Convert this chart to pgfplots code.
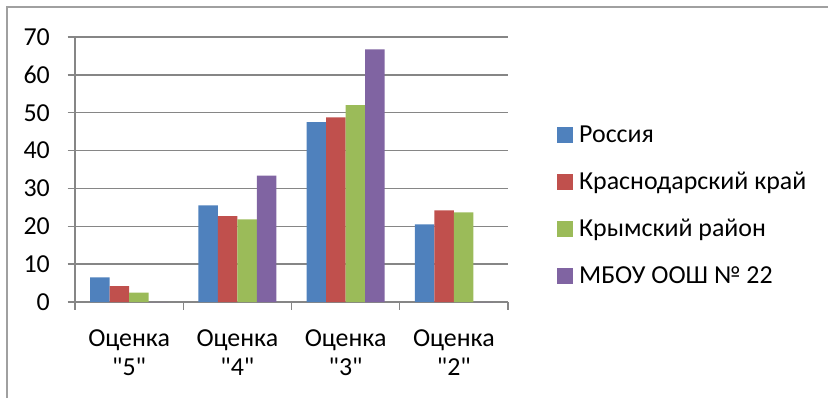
\documentclass[border=0pt]{standalone}
\usepackage{pgfplots}
\pgfplotsset{compat=1.18}
\usepackage{fontspec}
\setmainfont{Carlito}[Ligatures=TeXOff]
\definecolor{cblue}{HTML}{4F81BD}
\definecolor{cred}{HTML}{C0504D}
\definecolor{cgreen}{HTML}{9BBB59}
\definecolor{cpurple}{HTML}{8064A2}
\definecolor{cgrid}{HTML}{868686}
\definecolor{cframe}{HTML}{A0A0A0}
\newcommand{\q}{\symbol{34}}
\begin{document}
\begin{tikzpicture}[x=1bp,y=1bp]
\useasboundingbox (0,0) rectangle (828,398);
\draw[cframe, line width=1.3bp] (7,0) -- (7,391) -- (828,391);
\begin{axis}[
  at={(75bp,96bp)}, anchor=south west,
  scale only axis, width=433bp, height=265bp,
  ymin=0, ymax=70, ytick={0,10,...,70},
  xmin=-0.5, xmax=3.5,
  xtick={-0.5,0.5,1.5,2.5,3.5},
  x tick label as interval,
  xticklabels={{Оценка\\\q5\q},{Оценка\\\q4\q},{Оценка\\\q3\q},{Оценка\\\q2\q}},
  xticklabel style={align=center, font=\fontsize{26}{30}\selectfont, inner sep=0pt, yshift=-19.5bp},
  yticklabel style={font=\fontsize{26}{30}\selectfont, inner sep=0pt, xshift=-17.5bp},
  /pgf/number format/assume math mode=true,
  axis lines=left,
  axis line style={-, cgrid, line width=1.3bp},
  ymajorgrids,
  grid style={cgrid, line width=1.3bp},
  major tick style={cgrid, line width=1.3bp},
  tick align=outside, major tick length=7.5bp,
  ybar=0pt, bar width=19.5bp,
  legend style={at={(1.1132,0.666)}, anchor=north west, draw=none, fill=none,
    inner sep=0pt, outer sep=0pt, row sep=24.1bp, column sep=6.6bp,
    font=\fontsize{26}{30}\selectfont,
    nodes={inner sep=0pt, text height=17bp, text depth=6bp}},
  legend cell align=left,
  legend image code/.code={\fill[#1,draw=none] (0bp,-5.5bp) rectangle (15.5bp,10bp);},
]
\addplot[fill=cblue, draw=none] coordinates {(0,6.5) (1,25.5) (2,47.5) (3,20.5)};
\addplot[fill=cred, draw=none] coordinates {(0,4.2) (1,22.7) (2,48.8) (3,24.2)};
\addplot[fill=cgreen, draw=none] coordinates {(0,2.5) (1,21.8) (2,52.0) (3,23.7)};
\addplot[fill=cpurple, draw=none] coordinates {(0,0) (1,33.4) (2,66.7) (3,0)};
\legend{Россия, Краснодарский край, Крымский район, МБОУ ООШ № 22}
\end{axis}
\end{tikzpicture}
\end{document}
